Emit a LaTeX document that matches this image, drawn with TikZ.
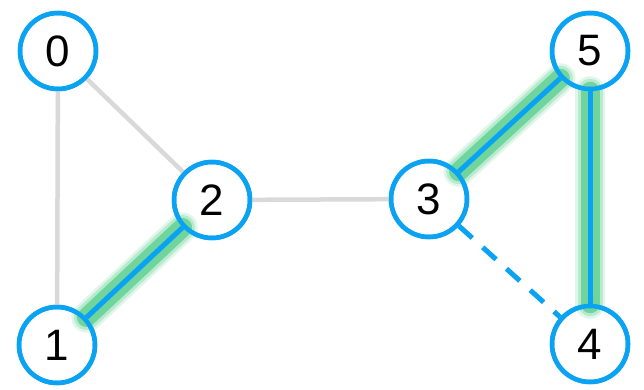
\documentclass[tikz,border=0pt]{standalone}
\usepackage{fontspec}
\setmainfont{Liberation Sans}
\definecolor{nodeblue}{HTML}{0AA2F2}
\definecolor{edgegray}{HTML}{D9D9D9}
\definecolor{glowgreen}{HTML}{6CD49A}
\begin{document}
\begin{tikzpicture}[x=1pt,y=-1pt,
  vertex/.style={circle,draw=nodeblue,line width=4.5pt,minimum size=76pt,inner sep=0pt,font=\fontsize{44}{44}\selectfont},
  plain/.style={draw=edgegray,line width=4.5pt},
  chosen/.style={draw=nodeblue,line width=5pt},
  candidate/.style={draw=nodeblue,line width=5pt,dash pattern=on 18pt off 14pt},
  glowA/.style={draw=glowgreen,line width=30pt,line cap=round,opacity=0.2},
  glowB/.style={draw=glowgreen,line width=25pt,line cap=round,opacity=0.35},
  glowC/.style={draw=glowgreen,line width=19pt,line cap=round,opacity=0.95}]
\useasboundingbox (0,0) rectangle (644,390);
\fill[white] (0,0) rectangle (644,390);

\node[vertex] (n0) at (58,51) {0};
\node[vertex] (n1) at (57,345) {1};
\node[vertex] (n2) at (212,200) {2};
\node[vertex] (n3) at (429,199) {3};
\node[vertex] (n4) at (590,344) {4};
\node[vertex] (n5) at (590,51) {5};

% soft glow under the selected edges
\foreach \a/\b in {n1/n2,n3/n5,n5/n4}{
  \draw[glowA] (\a) -- (\b);
  \draw[glowB] (\a) -- (\b);
  \draw[glowC] (\a) -- (\b);
}

% ordinary edges
\draw[plain] (n0) -- (n1);
\draw[plain] (n0) -- (n2);
\draw[plain] (n2) -- (n3);

% selected edges
\draw[chosen] (n1) -- (n2);
\draw[chosen] (n3) -- (n5);
\draw[chosen] (n5) -- (n4);

% candidate edge
\draw[candidate] (n3) -- (n4);

% redraw circle outlines above the glow
\foreach \n in {n0,n1,n2,n3,n4,n5}{
  \draw[nodeblue,line width=4.5pt] (\n.center) circle (38pt);
}
\end{tikzpicture}
\end{document}
